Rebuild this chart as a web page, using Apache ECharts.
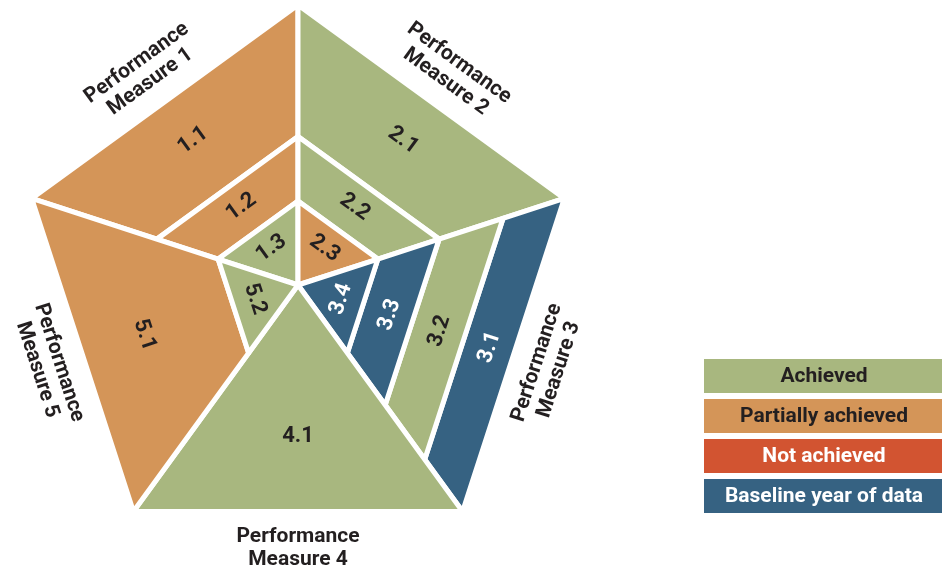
<!DOCTYPE html>
<html><head><meta charset="utf-8">
<script src="https://cdn.jsdelivr.net/npm/echarts@6/dist/echarts.min.js"></script>
<style>html,body{margin:0;padding:0;background:#fff}#c{width:942px;height:571px}</style>
</head><body><div id="c"></div>
<script>
// ---- data ----
const measureNames = ['Performance\nMeasure 1','Performance\nMeasure 2','Performance\nMeasure 3','Performance\nMeasure 4','Performance\nMeasure 5'];
const segIds     = ['1.1','1.2','1.3','2.1','2.2','2.3','3.1','3.2','3.3','3.4','4.1','5.1','5.2'];
const segMeasure = [0,0,0,1,1,1,2,2,2,2,3,4,4];
const segInner   = [0.53,0.3,0,0.53,0.3,0,0.77,0.53,0.3,0,0,0.3,0];
const segOuter   = [1,0.53,0.3,1,0.53,0.3,1,0.77,0.53,0.3,1,1,0.3];
const segStatus  = [1,1,0,0,0,1,3,0,3,3,0,1,0];
const statusNames  = ['Achieved','Partially achieved','Not achieved','Baseline year of data'];
const statusColors = ['#A8B77F','#D49558','#D25431','#366282'];
const statusText   = ['#231F20','#231F20','#FFFFFF','#FFFFFF'];
const measureRot   = [36,-36,72,0,-72];

// ---- geometry helpers ----
function vert(k){ const a=(90-72*k)*Math.PI/180; return [Math.cos(a),Math.sin(a)]; }
function edge(m){ return [vert((m+4)%5), vert(m)]; }
function mid(m){ const e=edge(m); return [(e[0][0]+e[1][0])/2,(e[0][1]+e[1][1])/2]; }
const FONT = 'bold 22px Roboto';

const chart = echarts.init(document.getElementById('c'));
const legendGraphics = statusNames.map((n,i)=>({
  type:'group', children:[
    {type:'rect', shape:{x:704,y:359+40*i,width:238,height:34}, style:{fill:statusColors[i]}},
    {type:'text', x:824, y:377+40*i, style:{text:n, fill:statusText[i], font:'bold 21px Roboto', align:'center', verticalAlign:'middle'}}
  ]
}));

chart.setOption({
  animation:false,
  grid:{left:18, top:5, width:560, height:560},
  xAxis:{type:'value', min:-1, max:1, show:false},
  yAxis:{type:'value', min:-1, max:1, show:false},
  graphic: legendGraphics,
  series:[
    {
      type:'custom', coordinateSystem:'cartesian2d', clip:false,
      data: segIds.map((id,i)=>[segInner[i], segOuter[i]]),
      renderItem:function(params, api){
        const i = params.dataIndex;
        const m = segMeasure[i], t0 = segInner[i], t1 = segOuter[i];
        const e = edge(m);
        const pts = [];
        if (t0 === 0) pts.push(api.coord([0,0]));
        else { pts.push(api.coord([e[0][0]*t0, e[0][1]*t0])); }
        pts.push(api.coord([e[0][0]*t1, e[0][1]*t1]));
        pts.push(api.coord([e[1][0]*t1, e[1][1]*t1]));
        if (t0 !== 0) pts.push(api.coord([e[1][0]*t0, e[1][1]*t0]));
        const tc = (2/3)*(Math.pow(t1,3)-Math.pow(t0,3))/(t1*t1-t0*t0);
        const M = mid(m);
        const c = api.coord([M[0]*tc, M[1]*tc]);
        const st = segStatus[i];
        return {type:'group', children:[
          {type:'polygon', shape:{points:pts}, style:{fill:statusColors[st], stroke:'#FFFFFF', lineWidth:5, lineJoin:'round'}},
          {type:'text', x:c[0], y:c[1], rotation:measureRot[m]*Math.PI/180,
            style:{text:segIds[i], fill:statusText[st], font:FONT, align:'center', verticalAlign:'middle'}}
        ]};
      }
    },
    {
      type:'custom', coordinateSystem:'cartesian2d', clip:false,
      data: measureNames.map((n,i)=>[i,0]),
      renderItem:function(params, api){
        const m = params.dataIndex;
        const M = mid(m);
        const c = api.coord([M[0]*1.16, M[1]*1.16]);
        return {type:'text', x:c[0], y:c[1], rotation:measureRot[m]*Math.PI/180,
          style:{text:measureNames[m], fill:'#231F20', font:'bold 21px Roboto', lineHeight:23, align:'center', verticalAlign:'middle'}};
      }
    }
  ]
});
</script></body></html>
